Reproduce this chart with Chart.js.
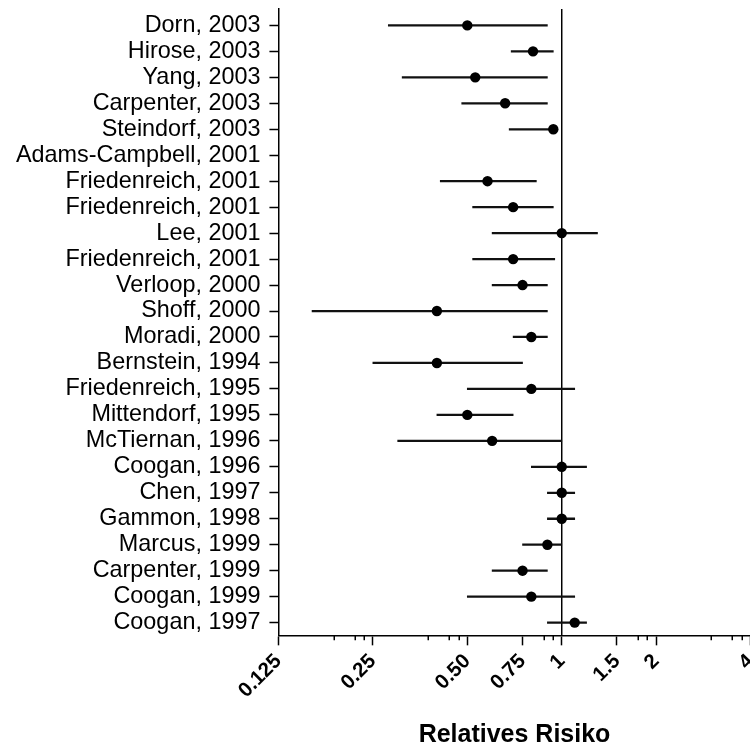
<!DOCTYPE html>
<html>
<head>
<meta charset="utf-8">
<script src="https://cdn.jsdelivr.net/npm/chart.js@4.4.1/dist/chart.umd.min.js"></script>
<style>
  html, body { margin: 0; padding: 0; background: #fff; }
  #wrap { position: relative; width: 750px; height: 747px; overflow: hidden; }
  #forest { position: absolute; left: 0; top: 0; }
</style>
</head>
<body>
<div id="wrap"><canvas id="forest"></canvas></div>
<script>
// studies, top to bottom
const studies = [
  'Dorn, 2003', 'Hirose, 2003', 'Yang, 2003', 'Carpenter, 2003', 'Steindorf, 2003',
  'Adams-Campbell, 2001', 'Friedenreich, 2001', 'Friedenreich, 2001', 'Lee, 2001',
  'Friedenreich, 2001', 'Verloop, 2000', 'Shoff, 2000', 'Moradi, 2000', 'Bernstein, 1994',
  'Friedenreich, 1995', 'Mittendorf, 1995', 'McTiernan, 1996', 'Coogan, 1996', 'Chen, 1997',
  'Gammon, 1998', 'Marcus, 1999', 'Carpenter, 1999', 'Coogan, 1999', 'Coogan, 1997'
];
const rr     = [0.50, 0.81, 0.53, 0.66, 0.94, null, 0.58, 0.70, 1.00, 0.70, 0.75, 0.40, 0.80, 0.40, 0.80, 0.50, 0.60, 1.00, 1.00, 1.00, 0.90, 0.75, 0.80, 1.10];
const ciLow  = [0.28, 0.69, 0.31, 0.48, 0.68, null, 0.41, 0.52, 0.60, 0.52, 0.60, 0.16, 0.70, 0.25, 0.50, 0.40, 0.30, 0.80, 0.90, 0.90, 0.75, 0.60, 0.50, 0.90];
const ciHigh = [0.90, 0.94, 0.90, 0.90, 0.95, null, 0.83, 0.94, 1.30, 0.95, 0.90, 0.90, 0.90, 0.75, 1.10, 0.70, 1.00, 1.20, 1.10, 1.10, 1.00, 0.90, 1.10, 1.20];

const xTicks = [0.125, 0.25, 0.5, 0.75, 1, 1.5, 2, 4];
const xTickLabels = ['0.125', '0.25', '0.50', '0.75', '1', '1.5', '2', '4'];
const xMinorTicks = [0.1875, 0.21875, 0.234375, 0.375, 0.4375, 0.46875, 0.875, 0.9375, 1.75, 1.875, 3, 3.5, 3.75];

const yMin = -0.63, yMax = 23.49;
const FONT = '"Liberation Sans", Arial, Helvetica, sans-serif';

// canvas is a bit larger than the page so the plot can touch the top/right edges
const W = 750, H = 747, SHIFT_TOP = 14, EXTRA_RIGHT = 22, EXTRA_BOTTOM = 3;
const canvas = document.getElementById('forest');
canvas.width = W + EXTRA_RIGHT;
canvas.height = H + SHIFT_TOP + EXTRA_BOTTOM;
canvas.style.width = canvas.width + 'px';
canvas.style.height = canvas.height + 'px';
canvas.style.top = (-SHIFT_TOP) + 'px';

const points = [], bars = [];
rr.forEach((v, i) => {
  if (v == null) return;
  points.push({ x: v, y: i });
  bars.push({ x: [ciLow[i], ciHigh[i]], y: i });
});

// short unlabeled ticks on the log axis
const minorTicks = {
  id: 'minorTicks',
  afterDraw(chart) {
    const sx = chart.scales.x;
    const ctx = chart.ctx;
    ctx.save();
    ctx.strokeStyle = '#000';
    ctx.lineWidth = 1.5;
    xMinorTicks.forEach(v => {
      const px = Math.round(sx.getPixelForValue(v)) + 0.25;
      ctx.beginPath();
      ctx.moveTo(px, sx.top);
      ctx.lineTo(px, sx.top + 5);
      ctx.stroke();
    });
    ctx.restore();
  }
};

new Chart(canvas, {
  type: 'scatter',
  data: {
    datasets: [
      {
        type: 'scatter',
        data: points,
        pointRadius: 5.2,
        pointHoverRadius: 5.2,
        backgroundColor: '#000',
        borderColor: '#000',
        borderWidth: 0,
        order: 1
      },
      {
        type: 'bar',
        indexAxis: 'y',
        data: bars,
        barThickness: 1.6,
        backgroundColor: '#111',
        borderWidth: 0,
        grouped: false,
        order: 2
      },
      {
        type: 'line',
        data: [{ x: 1, y: yMin }, { x: 1, y: yMax }],
        borderColor: '#000',
        borderWidth: 1.5,
        pointRadius: 0,
        showLine: true,
        order: 3
      }
    ]
  },
  options: {
    responsive: false,
    animation: false,
    layout: { padding: { left: 7, top: 0, right: 0, bottom: 0 } },
    plugins: { legend: { display: false }, tooltip: { enabled: false } },
    scales: {
      x: {
        type: 'logarithmic',
        min: 0.125,
        max: 4,
        afterBuildTicks: s => { s.ticks = xTicks.map(v => ({ value: v })); },
        ticks: {
          autoSkip: false,
          minRotation: 45,
          maxRotation: 45,
          padding: 4,
          color: '#000',
          font: { family: FONT, size: 20.5, weight: 'bold' },
          callback: (v, i) => xTickLabels[i]
        },
        grid: { drawOnChartArea: false, tickLength: 10, tickColor: '#000', tickWidth: 1.5 },
        border: { color: '#000', width: 1.5 },
        title: {
          display: true,
          text: 'Relatives Risiko',
          color: '#000',
          font: { family: FONT, size: 25, weight: 'bold' },
          padding: { top: 13, bottom: 0 }
        }
      },
      y: {
        type: 'linear',
        reverse: true,
        offset: false,
        min: yMin,
        max: yMax,
        afterBuildTicks: s => { s.ticks = studies.map((_, i) => ({ value: i })); },
        ticks: {
          autoSkip: false,
          padding: 9,
          color: '#000',
          font: { family: FONT, size: 23.4 },
          callback: v => studies[v]
        },
        grid: { offset: false, drawOnChartArea: false, tickLength: 9, tickColor: '#000', tickWidth: 1.5 },
        border: { color: '#000', width: 1.5 }
      }
    }
  },
  plugins: [minorTicks]
});
</script>
</body>
</html>
